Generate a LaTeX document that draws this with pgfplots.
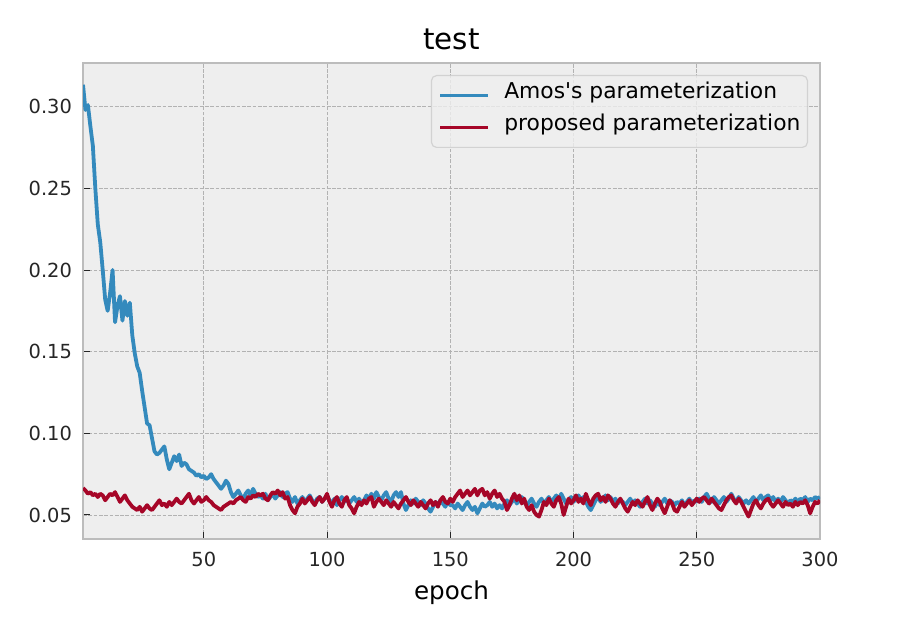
\documentclass[border=0pt]{standalone}
\usepackage{fontspec}
\setmainfont{DejaVu Sans}
\usepackage{pgfplots}
\usepackage{pgfplotstable}
\pgfplotsset{compat=1.18}
\definecolor{bmhblue}{HTML}{348ABD}
\definecolor{bmhred}{HTML}{A60628}
\definecolor{bmhbg}{HTML}{EEEEEE}
\definecolor{bmhgrid}{HTML}{B2B2B2}
\definecolor{bmhframe}{HTML}{BCBCBC}
\definecolor{bmhlegedge}{HTML}{CCCCCC}

\pgfplotstableread[row sep=\\]{
y\\
0.3135\\ 0.298\\ 0.301\\ 0.288\\ 0.276\\ 0.250\\ 0.228\\ 0.217\\ 0.200\\ 0.182\\
0.175\\ 0.186\\ 0.200\\ 0.168\\ 0.178\\ 0.184\\ 0.169\\ 0.181\\ 0.172\\ 0.180\\
0.160\\ 0.149\\ 0.141\\ 0.137\\ 0.126\\ 0.116\\ 0.106\\ 0.105\\ 0.097\\ 0.089\\
0.087\\ 0.088\\ 0.090\\ 0.092\\ 0.084\\ 0.078\\ 0.082\\ 0.086\\ 0.083\\ 0.087\\
0.080\\ 0.082\\ 0.081\\ 0.078\\ 0.077\\ 0.076\\ 0.074\\ 0.075\\ 0.073\\ 0.074\\
0.072\\ 0.073\\ 0.075\\ 0.072\\ 0.070\\ 0.068\\ 0.066\\ 0.068\\ 0.071\\ 0.069\\
0.064\\ 0.061\\ 0.063\\ 0.065\\ 0.062\\ 0.060\\ 0.063\\ 0.065\\ 0.062\\ 0.066\\
0.063\\ 0.061\\ 0.062\\ 0.060\\ 0.063\\ 0.059\\ 0.061\\ 0.063\\ 0.060\\ 0.062\\
0.064\\ 0.061\\ 0.063\\ 0.064\\ 0.060\\ 0.058\\ 0.061\\ 0.057\\ 0.059\\ 0.061\\
0.058\\ 0.060\\ 0.062\\ 0.059\\ 0.057\\ 0.060\\ 0.061\\ 0.058\\ 0.060\\ 0.062\\
0.059\\ 0.057\\ 0.060\\ 0.056\\ 0.059\\ 0.061\\ 0.058\\ 0.060\\ 0.057\\ 0.059\\
0.061\\ 0.058\\ 0.060\\ 0.057\\ 0.059\\ 0.062\\ 0.060\\ 0.063\\ 0.060\\ 0.064\\
0.061\\ 0.059\\ 0.062\\ 0.064\\ 0.060\\ 0.058\\ 0.062\\ 0.064\\ 0.061\\ 0.064\\
0.057\\ 0.053\\ 0.056\\ 0.059\\ 0.057\\ 0.060\\ 0.058\\ 0.056\\ 0.059\\ 0.057\\
0.054\\ 0.052\\ 0.055\\ 0.058\\ 0.056\\ 0.059\\ 0.057\\ 0.055\\ 0.058\\ 0.056\\
0.056\\ 0.054\\ 0.057\\ 0.055\\ 0.053\\ 0.056\\ 0.058\\ 0.055\\ 0.053\\ 0.055\\
0.051\\ 0.054\\ 0.057\\ 0.055\\ 0.056\\ 0.058\\ 0.055\\ 0.057\\ 0.054\\ 0.056\\
0.054\\ 0.057\\ 0.059\\ 0.056\\ 0.058\\ 0.060\\ 0.057\\ 0.059\\ 0.061\\ 0.058\\
0.056\\ 0.058\\ 0.060\\ 0.057\\ 0.055\\ 0.058\\ 0.060\\ 0.057\\ 0.059\\ 0.061\\
0.058\\ 0.060\\ 0.062\\ 0.059\\ 0.063\\ 0.060\\ 0.057\\ 0.059\\ 0.061\\ 0.058\\
0.060\\ 0.062\\ 0.059\\ 0.061\\ 0.058\\ 0.055\\ 0.053\\ 0.056\\ 0.059\\ 0.061\\
0.058\\ 0.060\\ 0.062\\ 0.059\\ 0.061\\ 0.058\\ 0.060\\ 0.057\\ 0.059\\ 0.058\\
0.056\\ 0.058\\ 0.060\\ 0.057\\ 0.059\\ 0.057\\ 0.055\\ 0.058\\ 0.060\\ 0.057\\
0.059\\ 0.057\\ 0.055\\ 0.058\\ 0.056\\ 0.058\\ 0.060\\ 0.057\\ 0.059\\ 0.058\\
0.056\\ 0.058\\ 0.057\\ 0.059\\ 0.056\\ 0.058\\ 0.060\\ 0.057\\ 0.059\\ 0.058\\
0.060\\ 0.058\\ 0.061\\ 0.063\\ 0.060\\ 0.058\\ 0.061\\ 0.059\\ 0.057\\ 0.059\\
0.061\\ 0.058\\ 0.060\\ 0.063\\ 0.060\\ 0.058\\ 0.061\\ 0.059\\ 0.057\\ 0.059\\
0.057\\ 0.059\\ 0.061\\ 0.058\\ 0.060\\ 0.062\\ 0.059\\ 0.061\\ 0.062\\ 0.059\\
0.061\\ 0.058\\ 0.060\\ 0.058\\ 0.061\\ 0.059\\ 0.057\\ 0.059\\ 0.058\\ 0.060\\
0.058\\ 0.060\\ 0.059\\ 0.061\\ 0.058\\ 0.060\\ 0.059\\ 0.061\\ 0.060\\ 0.061\\
}\bluetab

\pgfplotstableread[row sep=\\]{
y\\
0.0665\\ 0.065\\ 0.063\\ 0.064\\ 0.062\\ 0.063\\ 0.061\\ 0.063\\ 0.062\\ 0.059\\
0.061\\ 0.063\\ 0.062\\ 0.064\\ 0.061\\ 0.058\\ 0.060\\ 0.062\\ 0.059\\ 0.057\\
0.055\\ 0.054\\ 0.053\\ 0.055\\ 0.052\\ 0.054\\ 0.056\\ 0.054\\ 0.053\\ 0.055\\
0.057\\ 0.059\\ 0.056\\ 0.057\\ 0.055\\ 0.058\\ 0.056\\ 0.058\\ 0.060\\ 0.058\\
0.057\\ 0.059\\ 0.061\\ 0.063\\ 0.059\\ 0.057\\ 0.059\\ 0.061\\ 0.058\\ 0.059\\
0.061\\ 0.059\\ 0.058\\ 0.056\\ 0.055\\ 0.054\\ 0.053\\ 0.055\\ 0.056\\ 0.057\\
0.058\\ 0.057\\ 0.059\\ 0.060\\ 0.061\\ 0.059\\ 0.058\\ 0.061\\ 0.060\\ 0.062\\
0.061\\ 0.063\\ 0.062\\ 0.063\\ 0.060\\ 0.059\\ 0.062\\ 0.064\\ 0.063\\ 0.065\\
0.062\\ 0.064\\ 0.060\\ 0.061\\ 0.056\\ 0.053\\ 0.051\\ 0.055\\ 0.057\\ 0.060\\
0.057\\ 0.059\\ 0.061\\ 0.058\\ 0.056\\ 0.059\\ 0.061\\ 0.058\\ 0.060\\ 0.063\\
0.058\\ 0.055\\ 0.059\\ 0.061\\ 0.057\\ 0.055\\ 0.059\\ 0.061\\ 0.056\\ 0.054\\
0.051\\ 0.055\\ 0.058\\ 0.056\\ 0.059\\ 0.057\\ 0.060\\ 0.061\\ 0.055\\ 0.058\\
0.060\\ 0.058\\ 0.056\\ 0.059\\ 0.057\\ 0.055\\ 0.058\\ 0.056\\ 0.054\\ 0.057\\
0.059\\ 0.061\\ 0.058\\ 0.056\\ 0.059\\ 0.057\\ 0.055\\ 0.058\\ 0.056\\ 0.054\\
0.057\\ 0.059\\ 0.056\\ 0.058\\ 0.055\\ 0.059\\ 0.061\\ 0.058\\ 0.057\\ 0.060\\
0.058\\ 0.061\\ 0.063\\ 0.065\\ 0.061\\ 0.063\\ 0.065\\ 0.062\\ 0.064\\ 0.066\\
0.062\\ 0.065\\ 0.066\\ 0.062\\ 0.064\\ 0.060\\ 0.063\\ 0.065\\ 0.061\\ 0.063\\
0.060\\ 0.058\\ 0.053\\ 0.056\\ 0.060\\ 0.063\\ 0.059\\ 0.062\\ 0.057\\ 0.060\\
0.055\\ 0.053\\ 0.056\\ 0.052\\ 0.050\\ 0.049\\ 0.053\\ 0.058\\ 0.056\\ 0.060\\
0.057\\ 0.055\\ 0.059\\ 0.061\\ 0.057\\ 0.050\\ 0.055\\ 0.060\\ 0.057\\ 0.059\\
0.062\\ 0.058\\ 0.060\\ 0.057\\ 0.063\\ 0.059\\ 0.056\\ 0.060\\ 0.062\\ 0.063\\
0.059\\ 0.061\\ 0.058\\ 0.062\\ 0.060\\ 0.057\\ 0.055\\ 0.058\\ 0.060\\ 0.057\\
0.054\\ 0.052\\ 0.055\\ 0.058\\ 0.056\\ 0.059\\ 0.057\\ 0.055\\ 0.058\\ 0.061\\
0.056\\ 0.053\\ 0.057\\ 0.060\\ 0.058\\ 0.054\\ 0.051\\ 0.055\\ 0.059\\ 0.057\\
0.053\\ 0.052\\ 0.055\\ 0.058\\ 0.055\\ 0.057\\ 0.059\\ 0.056\\ 0.058\\ 0.060\\
0.058\\ 0.060\\ 0.061\\ 0.059\\ 0.057\\ 0.060\\ 0.058\\ 0.056\\ 0.054\\ 0.053\\
0.056\\ 0.059\\ 0.061\\ 0.062\\ 0.059\\ 0.057\\ 0.060\\ 0.058\\ 0.055\\ 0.052\\
0.049\\ 0.053\\ 0.057\\ 0.059\\ 0.056\\ 0.054\\ 0.057\\ 0.059\\ 0.060\\ 0.057\\
0.055\\ 0.057\\ 0.059\\ 0.057\\ 0.055\\ 0.058\\ 0.056\\ 0.057\\ 0.055\\ 0.058\\
0.056\\ 0.058\\ 0.057\\ 0.059\\ 0.056\\ 0.051\\ 0.055\\ 0.058\\ 0.057\\ 0.059\\
}\redtab

\begin{document}
\begin{tikzpicture}
\useasboundingbox (-41.5pt,-40.35pt) rectangle (418.5pt,269.65pt);
\begin{axis}[
  at={(0,0)}, anchor=south west,
  width=368.5pt, height=238pt, scale only axis,
  xmin=1, xmax=300, ymin=0.0351, ymax=0.3266,
  xtick={50,100,150,200,250,300},
  ytick={0.05,0.1,0.15,0.2,0.25,0.3},
  scaled y ticks=false,
  yticklabel style={/pgf/number format/fixed, /pgf/number format/fixed zerofill, /pgf/number format/precision=2, xshift=-2pt},
  /pgf/number format/assume math mode=true,
  tick label style={font=\fontsize{9.7}{11}\selectfont, text=black!85},
  xticklabel style={yshift=-3pt},
  axis background/.style={fill=bmhbg},
  axis line style={bmhframe, line width=0.8pt},
  grid=major,
  major grid style={bmhgrid, line width=0.45pt, dash pattern=on 1.85pt off 0.8pt},
  tick align=inside,
  tick pos=left,
  major tick length=3.5pt,
  tick style={black!85, line width=0.5pt},
  title={test},
  title style={font=\fontsize{14.7}{17}\selectfont, at={(axis description cs:0.5,1)}, anchor=base, yshift=0.65pt},
  xlabel={epoch},
  xlabel style={font=\fontsize{12.3}{14}\selectfont, at={(axis description cs:0.5,0)}, anchor=center, yshift=-26.6pt},
  legend cell align=left,
  legend image code/.code={\draw[#1, line width=1.8pt, opacity=1] (0pt,0pt) -- (24pt,0pt);},
  legend style={
    at={(axis description cs:1,1)}, anchor=north east, xshift=-6pt, yshift=-5.85pt,
    fill=bmhbg, fill opacity=0.8, text opacity=1, draw=bmhlegedge, draw opacity=0.8,
    rounded corners=2.5pt, line width=0.6pt,
    font=\fontsize{10.9}{13}\selectfont,
    inner xsep=3.5pt, inner ysep=3.3pt,
    row sep=2.7pt, column sep=7.1pt,
    nodes={inner sep=0pt, text depth=5pt, text height=8.3pt},
  },
]
\addplot[bmhblue, line width=1.9pt, line join=round] table[x expr=\coordindex+1, y index=0] {\bluetab};
\addlegendentry{Amos\textquotesingle s parameterization}
\addplot[bmhred, line width=1.9pt, line join=round] table[x expr=\coordindex+1, y index=0] {\redtab};
\addlegendentry{proposed parameterization}
\end{axis}
\end{tikzpicture}
\end{document}
